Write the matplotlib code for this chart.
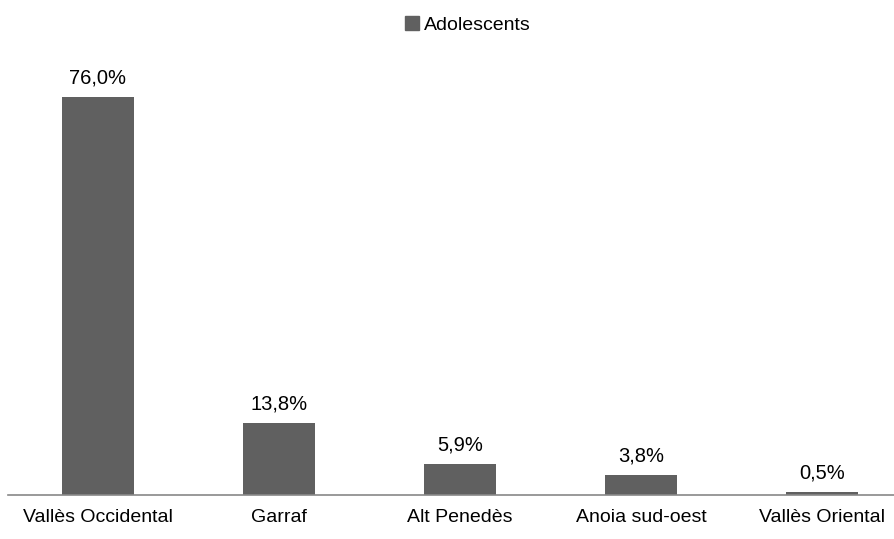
import matplotlib
matplotlib.use("Agg")
from matplotlib import pyplot as plt
from matplotlib.patches import Patch

categories = ["Vallès Occidental", "Garraf", "Alt Penedès", "Anoia sud-oest", "Vallès Oriental"]
values = [76.0, 13.8, 5.9, 3.8, 0.5]
labels = ["76,0%", "13,8%", "5,9%", "3,8%", "0,5%"]
series = "Adolescents"

plt.rcParams['font.family'] = ['Liberation Sans', 'DejaVu Sans']

fig = plt.figure(figsize=(8.94, 5.39), dpi=100)
ax = fig.add_axes([8 / 894, 44 / 539, 886 / 894, 419 / 539])
color = "#606060"
x = range(len(categories))
bars = ax.bar(x, values, width=0.4, color=color)
for b, t in zip(bars, labels):
    ax.annotate(t, (b.get_x() + b.get_width() / 2, b.get_height()),
                xytext=(0, 7), textcoords="offset points",
                ha="center", va="bottom", fontsize=14.5)
ax.set_xlim(-0.497, 4.398)
ax.set_ylim(0, 80)
ax.set_yticks([])
ax.set_xticks(list(x))
ax.set_xticklabels(categories, fontsize=14)
ax.tick_params(axis="x", length=0, pad=10)
for s in ["top", "right", "left"]:
    ax.spines[s].set_visible(False)
ax.spines["bottom"].set_color("#888888")
ax.spines["bottom"].set_linewidth(1.2)
fig.legend(handles=[Patch(color=color, label=series)], loc="center",
           bbox_to_anchor=(468 / 894, 1 - 25 / 539), frameon=False,
           fontsize=14, handlelength=0.7, handleheight=0.7, handletextpad=0.3)
fig.savefig("out.png", dpi=100)
